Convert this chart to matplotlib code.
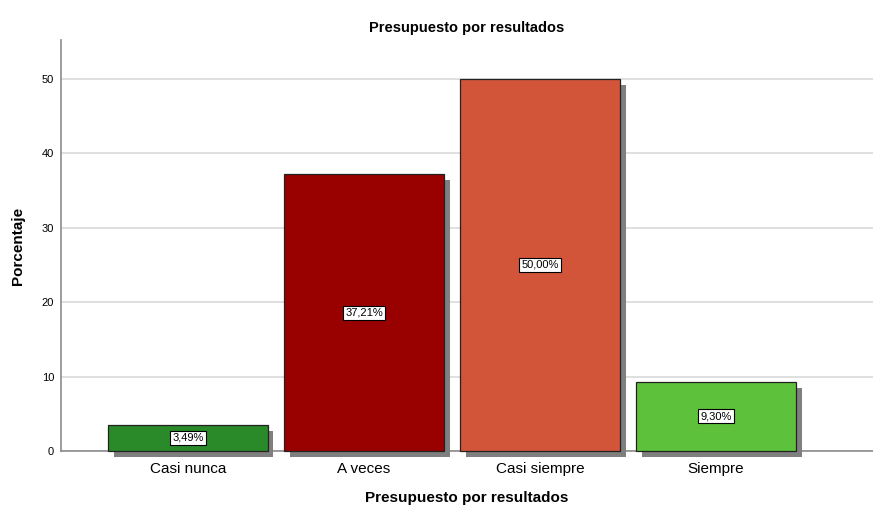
import matplotlib.pyplot as plt
import matplotlib.patheffects as pe

plt.rcParams['font.family'] = ['Liberation Sans', 'DejaVu Sans']

categories = ["Casi nunca", "A veces", "Casi siempre", "Siempre"]
values = [3.49, 37.21, 50.00, 9.30]
labels = ["3,49%", "37,21%", "50,00%", "9,30%"]
colors = ["#2a8a2a", "#990000", "#d2553a", "#5dc13b"]

fig = plt.figure(figsize=(8.73, 5.09), dpi=100)
ax = fig.add_axes([0.0699, 0.114, 0.93, 0.807])

x = range(len(categories))
bars = ax.bar(x, values, width=0.905, color=colors, edgecolor="#222222",
              linewidth=0.9, zorder=3)
for b in bars:
    b.set_clip_on(False)
    b.set_path_effects([pe.SimplePatchShadow(offset=(4.3, -4.3),
                                             shadow_rgbFace="#7f7f7f", alpha=1),
                        pe.Normal()])

for xi, v, lab in zip(x, values, labels):
    ax.text(xi, v / 2, lab, ha="center", va="center", fontsize=8, zorder=5,
            bbox=dict(boxstyle="square,pad=0.18", fc="white", ec="black", lw=0.8))

ax.set_xlim(-0.72, 3.89)
ax.set_ylim(0, 55.2)
ax.set_yticks([0, 10, 20, 30, 40, 50])
ax.set_xticks(list(x))
ax.set_xticklabels(categories, fontsize=11)
ax.tick_params(axis="y", length=0, labelsize=8, pad=5)
ax.tick_params(axis="x", length=0, pad=8)
ax.grid(axis="y", color="#d9d9d9", linewidth=1.2, zorder=0)
ax.set_axisbelow(True)

for s in ["top", "right"]:
    ax.spines[s].set_visible(False)
ax.spines["left"].set_color("#8c8c8c")
ax.spines["bottom"].set_color("#8c8c8c")
ax.spines["left"].set_linewidth(1.2)
ax.spines["bottom"].set_linewidth(1.2)

ax.set_title("Presupuesto por resultados", fontsize=10.5, fontweight="bold", pad=6)
ax.set_xlabel("Presupuesto por resultados", fontsize=11, fontweight="bold", labelpad=11)
ax.set_ylabel("Porcentaje", fontsize=11, fontweight="bold", labelpad=12)

fig.savefig("out.png", dpi=100)
